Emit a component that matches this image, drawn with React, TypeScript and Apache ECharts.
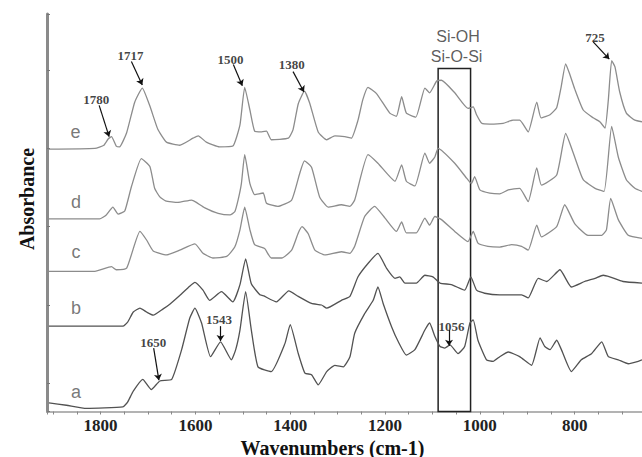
import React, { useEffect, useRef } from "react";
import * as echarts from "echarts";

// Wavenumber (cm-1) / absorbance (offset, arbitrary units)
const traceE: [number, number][] = [
  [1909, 2.99], [1812, 3.0], [1793, 3.04], [1784, 3.12], [1777, 3.15], [1767, 3.03], [1760, 3.02],
  [1745, 3.2], [1728, 3.59], [1712, 3.77], [1696, 3.54], [1679, 3.24], [1661, 3.08], [1633, 3.04],
  [1605, 3.13], [1594, 3.16], [1577, 3.08], [1549, 3.02], [1521, 3.03], [1506, 3.3], [1496, 3.78],
  [1485, 3.49], [1475, 3.22], [1460, 3.21], [1450, 3.22], [1440, 3.11], [1404, 3.13], [1394, 3.24],
  [1383, 3.57], [1370, 3.73], [1359, 3.58], [1341, 3.21], [1323, 3.11], [1306, 3.16], [1285, 3.15],
  [1271, 3.13], [1257, 3.36], [1247, 3.62], [1236, 3.78], [1218, 3.7], [1190, 3.45], [1176, 3.41],
  [1165, 3.66], [1155, 3.45], [1135, 3.4], [1116, 3.77], [1106, 3.71], [1091, 3.86], [1081, 3.87],
  [1053, 3.71], [1025, 3.51], [1014, 3.53], [1007, 3.43], [996, 3.32], [979, 3.31], [951, 3.32],
  [930, 3.36], [916, 3.36], [909, 3.31], [898, 3.21], [880, 3.59], [871, 3.39], [852, 3.43],
  [838, 3.52], [829, 3.77], [819, 4.08], [810, 3.94], [800, 3.76], [782, 3.49], [761, 3.39],
  [747, 3.34], [736, 3.26], [729, 3.62], [722, 4.12], [715, 4.04], [705, 3.72], [691, 3.45],
  [673, 3.36], [658, 3.34],
];

const traceD: [number, number][] = [
  [1909, 2.1], [1812, 2.1], [1802, 2.1], [1788, 2.15], [1774, 2.25], [1763, 2.16], [1749, 2.2],
  [1735, 2.51], [1714, 2.87], [1696, 2.77], [1686, 2.49], [1675, 2.38], [1663, 2.33], [1637, 2.31],
  [1608, 2.34], [1598, 2.31], [1580, 2.24], [1552, 2.17], [1527, 2.15], [1517, 2.19], [1510, 2.34],
  [1503, 2.55], [1496, 2.92], [1485, 2.55], [1475, 2.41], [1457, 2.43], [1450, 2.3], [1426, 2.26],
  [1397, 2.34], [1380, 2.68], [1370, 2.84], [1355, 2.76], [1338, 2.38], [1320, 2.25], [1292, 2.28],
  [1274, 2.26], [1264, 2.34], [1236, 2.92], [1215, 2.81], [1179, 2.58], [1165, 2.79], [1155, 2.58],
  [1137, 2.52], [1116, 2.94], [1106, 2.81], [1095, 2.89], [1088, 3.0], [1053, 2.81], [1028, 2.62],
  [1018, 2.55], [1011, 2.64], [1000, 2.47], [979, 2.43], [958, 2.42], [940, 2.47], [916, 2.49],
  [898, 2.32], [880, 2.75], [870, 2.53], [838, 2.66], [819, 3.19], [800, 2.89], [782, 2.6],
  [757, 2.49], [738, 2.45], [722, 3.28], [708, 2.89], [691, 2.6], [673, 2.49], [658, 2.45],
];

const traceC: [number, number][] = [
  [1909, 1.43], [1812, 1.43], [1777, 1.49], [1767, 1.45], [1745, 1.47], [1717, 1.94], [1703, 1.83],
  [1689, 1.69], [1661, 1.64], [1633, 1.7], [1601, 1.78], [1584, 1.66], [1563, 1.6], [1534, 1.62],
  [1517, 1.74], [1506, 1.96], [1496, 2.25], [1485, 1.96], [1475, 1.77], [1454, 1.72], [1440, 1.6],
  [1418, 1.6], [1397, 1.7], [1383, 1.92], [1375, 2.0], [1362, 1.91], [1348, 1.7], [1327, 1.64],
  [1292, 1.68], [1274, 1.66], [1264, 1.75], [1243, 2.13], [1222, 2.26], [1200, 2.11], [1176, 1.94],
  [1165, 2.06], [1155, 1.92], [1134, 1.92], [1116, 2.11], [1106, 2.02], [1095, 2.13], [1081, 2.09],
  [1053, 1.94], [1025, 1.81], [1014, 1.94], [1004, 1.79], [983, 1.75], [958, 1.74], [933, 1.77],
  [912, 1.75], [898, 1.7], [880, 2.02], [870, 1.87], [838, 2.0], [821, 2.28], [800, 2.04],
  [772, 1.89], [743, 1.89], [733, 1.96], [724, 2.36], [708, 2.09], [687, 1.89], [658, 1.85],
];

const traceB: [number, number][] = [
  [1909, 0.73], [1753, 0.73], [1743, 0.78], [1731, 0.91], [1717, 0.96], [1703, 0.91], [1689, 0.87],
  [1668, 0.95], [1654, 1.01], [1633, 1.12], [1612, 1.24], [1601, 1.29], [1584, 1.19], [1570, 1.06],
  [1545, 1.17], [1521, 1.04], [1506, 1.26], [1494, 1.59], [1482, 1.27], [1464, 1.13], [1457, 1.12],
  [1429, 1.04], [1403, 1.18], [1383, 1.11], [1355, 1.02], [1334, 1.0], [1323, 0.96], [1292, 1.06],
  [1274, 1.11], [1257, 1.36], [1236, 1.53], [1215, 1.66], [1197, 1.47], [1179, 1.34], [1169, 1.36],
  [1158, 1.28], [1134, 1.28], [1116, 1.38], [1099, 1.36], [1084, 1.28], [1060, 1.26], [1032, 1.19],
  [1019, 1.36], [1007, 1.19], [990, 1.15], [958, 1.13], [940, 1.13], [912, 1.13], [898, 1.09],
  [877, 1.34], [859, 1.3], [831, 1.45], [807, 1.23], [779, 1.3], [757, 1.34], [740, 1.38],
  [726, 1.36], [698, 1.3], [658, 1.28],
];

const traceA: [number, number][] = [
  [1909, -0.25], [1872, -0.28], [1830, -0.32], [1753, -0.3], [1743, -0.24], [1731, -0.1], [1711, 0.05],
  [1693, -0.08], [1675, 0.03], [1650, 0.05], [1629, 0.43], [1612, 0.83], [1601, 0.96], [1587, 0.77],
  [1568, 0.34], [1547, 0.53], [1524, 0.3], [1515, 0.43], [1506, 0.68], [1494, 1.17], [1482, 0.68],
  [1468, 0.21], [1440, 0.15], [1411, 0.51], [1400, 0.75], [1383, 0.38], [1369, 0.13], [1355, 0.11],
  [1341, -0.02], [1323, 0.15], [1306, 0.23], [1288, 0.21], [1274, 0.34], [1264, 0.64], [1243, 0.89],
  [1225, 1.06], [1215, 1.23], [1204, 1.02], [1186, 0.72], [1172, 0.53], [1155, 0.36], [1137, 0.43],
  [1116, 0.68], [1106, 0.77], [1095, 0.6], [1084, 0.47], [1074, 0.45], [1063, 0.49], [1046, 0.38],
  [1032, 0.47], [1021, 0.77], [1014, 0.81], [1004, 0.55], [986, 0.3], [972, 0.28], [958, 0.34],
  [940, 0.4], [916, 0.34], [891, 0.23], [873, 0.58], [863, 0.47], [852, 0.43], [838, 0.55],
  [828, 0.43], [807, 0.15], [786, 0.3], [764, 0.38], [743, 0.53], [729, 0.34], [708, 0.3],
  [687, 0.25], [666, 0.28], [658, 0.3],
];

// Peak annotations: [wavenumber, absorbance, text]
const peakLabels: [number, number, string][] = [
  [1737, 4.19, "1717"], [1526, 4.14, "1500"], [1397, 4.07, "1380"], [1809, 3.63, "1780"],
  [757, 4.42, "725"], [1689, 0.52, "1650"], [1550, 0.82, "1543"], [1060, 0.73, "1056"],
];
// Arrows: [fromWavenumber, fromAbs, toWavenumber, toAbs]
const peakArrows: [number, number, number, number][] = [
  [1735, 4.11, 1712, 3.81], [1520, 4.07, 1501, 3.8], [1394, 3.98, 1371, 3.72], [1803, 3.55, 1782, 3.15],
  [761, 4.36, 727, 4.14], [1688, 0.45, 1677, 0.04], [1547, 0.73, 1547, 0.54], [1065, 0.68, 1065, 0.48],
];
const sampleLabels: [number, number, string][] = [
  [1853, 3.21, "e"], [1852, 2.32, "d"], [1852, 1.68, "c"], [1852, 0.96, "b"], [1852, -0.11, "a"],
];
const bandLabels: [number, number, string][] = [
  [1046, 4.43, "Si-OH"], [1049, 4.17, "Si-O-Si"],
];
// Si-OH / Si-O-Si band box: [high wavenumber, low wavenumber, top absorbance]
const bandBox: [number, number, number] = [1088, 1019.6, 4.02];

const X_MIN = 658;
const X_MAX = 1913;
const Y_MIN = -0.36;
const Y_MAX = 4.716;

const lightGray = "#8c8c8c";
const darkGray = "#525252";

function textSeries(data: [number, number, string][], font: any) {
  return {
    type: "scatter",
    silent: true,
    symbolSize: 0,
    z: 10,
    data: data.map((d) => [d[0], d[1], d[2]]),
    label: {
      show: true,
      position: [0, 0],
      align: "center",
      verticalAlign: "middle",
      formatter: (p: any) => p.data[2],
      ...font,
    },
    emphasis: { disabled: true },
  };
}

export default function App() {
  const ref = useRef<HTMLDivElement>(null);
  useEffect(() => {
    if (!ref.current) return;
    const chart = echarts.init(ref.current, undefined, { renderer: "svg" });
    const lineSeries = (data: [number, number][], color: string, name: string) => ({
      type: "line",
      name,
      data,
      silent: true,
      showSymbol: false,
      symbol: "none",
      smooth: 0.15,
      lineStyle: { color, width: 1.3 },
      emphasis: { disabled: true },
    });
    chart.setOption({
      animation: false,
      grid: { left: 47, right: 0, top: 14, bottom: 45.5, containLabel: false },
      xAxis: {
        type: "value",
        min: X_MIN,
        max: X_MAX,
        inverse: true,
        splitNumber: 6,
        axisLine: { onZero: false, lineStyle: { color: "#9a9a9a", width: 1.5 } },
        axisTick: { show: true, length: 3, lineStyle: { color: "#888" } },
        minorTick: { show: true, splitNumber: 4, length: 3, lineStyle: { color: "#888" } },
        axisLabel: {
          showMinLabel: false,
          showMaxLabel: false,
          margin: 5,
          color: "#222",
          fontFamily: "Liberation Serif",
          fontWeight: "bold",
          fontSize: 17,
          formatter: (v: number) => String(Math.round(v)),
        },
        splitLine: { show: false },
      },
      yAxis: {
        type: "value",
        min: Y_MIN,
        max: Y_MAX,
        splitNumber: 5,
        axisLine: { show: true, onZero: false, lineStyle: { color: "#8a8a8a", width: 3 } },
        axisTick: { show: true, inside: true, length: 3, lineStyle: { color: "#777" } },
        axisLabel: { show: false },
        splitLine: { show: false },
      },
      graphic: [
        {
          type: "text",
          x: 332.5,
          y: 447.5,
          style: {
            text: "Wavenumbers (cm-1)",
            font: 'bold 20px "Liberation Serif"',
            fill: "#111",
            align: "center",
            verticalAlign: "middle",
          },
        },
        {
          type: "text",
          x: 26.7,
          y: 199,
          rotation: Math.PI / 2,
          style: {
            text: "Absorbance",
            font: 'bold 20px "Liberation Serif"',
            fill: "#111",
            align: "center",
            verticalAlign: "middle",
          },
        },
      ],
      series: [
        lineSeries(traceE, lightGray, "e"),
        lineSeries(traceD, lightGray, "d"),
        lineSeries(traceC, lightGray, "c"),
        lineSeries(traceB, darkGray, "b"),
        lineSeries(traceA, darkGray, "a"),
        {
          ...textSeries(peakLabels, {
            fontFamily: "Liberation Serif",
            fontWeight: "bold",
            fontSize: 13,
            color: "#111",
          }),
          markLine: {
            silent: true,
            symbol: ["none", "arrow"],
            symbolSize: 6,
            label: { show: false },
            lineStyle: { color: "#111", width: 1.2, type: "solid" },
            emphasis: { disabled: true },
            data: peakArrows.map((a) => [
              { coord: [a[0], a[1]] },
              { coord: [a[2], a[3]] },
            ]),
          },
          markArea: {
            silent: true,
            itemStyle: { color: "rgba(0,0,0,0)", borderColor: "#222", borderWidth: 1.5 },
            label: { show: false },
            data: [[{ coord: [bandBox[0], bandBox[2]] }, { coord: [bandBox[1], Y_MIN] }]],
          },
        },
        textSeries(sampleLabels, {
          fontFamily: "Liberation Sans",
          fontSize: 18,
          color: "#555",
        }),
        textSeries(bandLabels, {
          fontFamily: "Liberation Sans",
          fontSize: 16,
          color: "#333",
        }),
      ],
    });
    return () => chart.dispose();
  }, []);
  return (
    <div
      ref={ref}
      style={{ position: "fixed", left: 0, top: 0, width: 642, height: 457, background: "#fff" }}
    />
  );
}
